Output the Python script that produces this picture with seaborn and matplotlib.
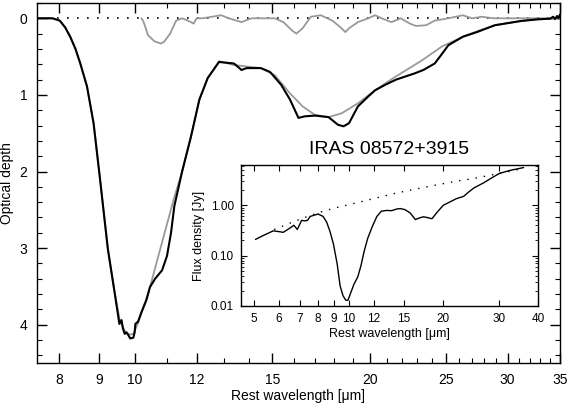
import numpy as np
import pandas as pd
import matplotlib
matplotlib.use("Agg")
import matplotlib.pyplot as plt
import matplotlib.ticker as mticker
import seaborn as sns

# ---------------- data ----------------
# observed optical depth (black)
tau_wl = [7.5, 7.85, 8.02, 8.15, 8.27, 8.40, 8.52, 8.69, 8.86, 9.03, 9.11, 9.24, 9.41,
          9.56, 9.62, 9.66, 9.71, 9.76, 9.82, 9.87, 9.96, 10.0, 10.02, 10.1, 10.2, 10.35,
          10.46, 10.62, 10.84, 11.0, 11.13, 11.24, 11.5, 11.8, 12.1, 12.4, 12.82, 13.4,
          13.7, 13.9, 14.5, 14.9, 15.4, 15.8, 16.2, 16.5, 17.0, 17.7, 18.2, 18.5, 18.8,
          19.3, 19.9, 20.3, 20.9, 21.6, 22.8, 23.4, 24.2, 24.7, 25.2, 26.3, 27.4, 28.9,
          31.2, 32.8, 34.0, 34.3, 34.5, 34.7, 34.85, 35.0]
tau_obs = [0.0, 0.0, 0.03, 0.12, 0.24, 0.40, 0.59, 0.89, 1.37, 2.10, 2.45, 3.01, 3.53,
           3.99, 3.94, 4.05, 4.12, 4.10, 4.14, 4.18, 4.17, 4.10, 3.99, 3.96, 3.84, 3.68,
           3.51, 3.40, 3.29, 3.10, 2.80, 2.45, 2.00, 1.55, 1.06, 0.78, 0.57, 0.59,
           0.675, 0.65, 0.65, 0.70, 0.87, 1.06, 1.30, 1.28, 1.27, 1.29, 1.39, 1.41, 1.37,
           1.15, 1.02, 0.94, 0.87, 0.80, 0.72, 0.675, 0.59, 0.47, 0.35, 0.24, 0.18, 0.09,
           0.035, 0.013, 0.005, -0.02, 0.01, -0.03, 0.0, -0.05]

# model fit (grey)
mod_wl = [7.5, 7.85, 8.02, 8.15, 8.27, 8.40, 8.52, 8.69, 8.86, 9.03, 9.11, 9.24, 9.41,
          9.56, 9.71, 9.85, 9.96, 10.1, 10.2, 10.35, 10.46, 11.22, 11.5, 11.8, 12.1,
          12.4, 12.82, 13.4, 14.5, 15.1, 15.8, 16.4, 17.0, 17.7, 18.4, 19.3, 20.3, 21.5,
          23.3, 24.7, 26.3, 27.4, 28.9, 31.2, 32.8, 35.0]
tau_mod = [0.0, 0.0, 0.03, 0.12, 0.24, 0.40, 0.59, 0.89, 1.37, 2.10, 2.45, 3.01, 3.53,
           3.92, 4.08, 4.13, 4.12, 3.98, 3.84, 3.66, 3.51, 2.36, 2.00, 1.55, 1.06,
           0.78, 0.56, 0.61, 0.65, 0.74, 0.98, 1.15, 1.26, 1.29, 1.24, 1.11, 0.94, 0.77,
           0.55, 0.37, 0.24, 0.17, 0.09, 0.035, 0.013, 0.0]

# residual (grey, near zero)
res_wl = [10.2, 10.25, 10.3, 10.4, 10.6, 10.8, 10.9, 11.1, 11.3, 11.5, 11.7, 11.9, 12.0,
          12.2, 12.9, 13.2, 13.7, 14.1, 15.1, 15.5, 15.9, 16.1, 16.4, 16.8, 17.3, 17.9,
          18.3, 18.6, 18.8, 19.3, 19.9, 20.3, 20.7, 21.3, 21.9, 22.5, 22.9, 23.6, 24.2,
          25.2, 26.3, 27.0, 27.8, 28.8, 30.0, 31.5, 33.0, 35.0]
tau_res = [0.0, 0.03, 0.09, 0.22, 0.30, 0.33, 0.31, 0.20, 0.03, 0.0, 0.03, 0.07, 0.0,
           0.0, -0.04, 0.0, 0.05, 0.0, 0.0, 0.05, 0.16, 0.20, 0.13, -0.02, -0.04, 0.03,
           0.11, 0.18, 0.13, 0.05, 0.0, -0.04, 0.0, 0.05, 0.0, 0.07, 0.10, 0.09, 0.03,
           0.0, -0.04, 0.0, -0.02, 0.0, 0.0, 0.0, 0.0, 0.0]

# inset: observed flux density and continuum
flux_wl = [5.06, 5.35, 5.76, 6.0, 6.2, 6.5, 6.7, 6.87, 7.09, 7.25, 7.4, 7.55, 8.0, 8.3,
           8.52, 8.73, 8.95, 9.2, 9.4, 9.6, 9.8, 9.95, 10.15, 10.4, 10.7, 10.96, 11.2,
           11.5, 11.9, 12.3, 12.7, 13.2, 13.7, 14.2, 14.6, 15.1, 15.7, 16.3, 16.8, 17.3,
           17.8, 18.4, 19.2, 20.0, 21.2, 22.0, 23.2, 24.0, 25.0, 26.9, 28.5, 30.2, 32.5,
           34.5, 36.0]
flux = [0.21, 0.25, 0.31, 0.30, 0.29, 0.35, 0.40, 0.33, 0.50, 0.49, 0.50, 0.60, 0.67, 0.60,
        0.46, 0.30, 0.17, 0.068, 0.025, 0.016, 0.013, 0.013, 0.018, 0.027, 0.038, 0.065, 0.12,
        0.22, 0.38, 0.60, 0.76, 0.79, 0.78, 0.84, 0.86, 0.82, 0.70, 0.52, 0.56, 0.59,
        0.57, 0.54, 0.75, 1.0, 1.2, 1.35, 1.5, 1.8, 2.2, 2.8, 3.5, 4.3, 4.9,
        5.3, 5.6]
cont_wl = [5.8, 6.5, 7.3, 8.0, 8.9, 11.1, 14.2, 18.2, 22.0, 25.0, 28.2, 31.9, 36.0]
cont = [0.33, 0.44, 0.58, 0.71, 0.86, 1.2, 1.75, 2.4, 3.0, 3.4, 3.95, 4.6, 5.4]

main_xticks = [8, 9, 10, 12, 15, 20, 25, 30, 35]
main_xminor = [11, 13, 14, 16, 17, 18, 19, 21, 22, 23, 24, 26, 27, 28, 29, 31, 32, 33, 34]
main_yticks = [0, 1, 2, 3, 4]
inset_xticks = [5, 6, 7, 8, 9, 10, 12, 15, 20, 30, 40]
inset_yticks = [0.01, 0.1, 1.0]

# ---------------- style ----------------
sns.set_theme(style="ticks")
plt.rcParams['font.family'] = ['Liberation Sans', 'DejaVu Sans']
plt.rcParams['axes.linewidth'] = 1.0
plt.rcParams['text.color'] = 'black'
plt.rcParams['axes.labelcolor'] = 'black'

fig = plt.figure(figsize=(5.72, 4.04), dpi=100)
ax = fig.add_axes([0.0647, 0.1015, 0.979 - 0.0647, 0.9926 - 0.1015])

df_obs = pd.DataFrame({"wl": tau_wl, "tau": tau_obs})
df_mod = pd.DataFrame({"wl": mod_wl, "tau": tau_mod})
df_res = pd.DataFrame({"wl": res_wl, "tau": tau_res})
df_zero = pd.DataFrame({"wl": [7.5, 35.0], "tau": [0.0, 0.0]})

sns.lineplot(data=df_zero, x="wl", y="tau", ax=ax, color="black", lw=1.2,
             linestyle=(0, (1, 5)), sort=False, zorder=1)
sns.lineplot(data=df_res, x="wl", y="tau", ax=ax, color="#999999", lw=1.3, sort=False, zorder=2)
sns.lineplot(data=df_mod, x="wl", y="tau", ax=ax, color="#999999", lw=1.3, sort=False, zorder=2)
sns.lineplot(data=df_obs, x="wl", y="tau", ax=ax, color="black", lw=1.5, sort=False, zorder=3)

ax.set_xscale("log")
ax.set_xlim(7.5, 35)
ax.set_ylim(4.5, -0.2)
ax.xaxis.set_major_locator(mticker.FixedLocator(main_xticks))
ax.xaxis.set_major_formatter(mticker.FixedFormatter([str(t) for t in main_xticks]))
ax.xaxis.set_minor_locator(mticker.FixedLocator(main_xminor))
ax.xaxis.set_minor_formatter(mticker.NullFormatter())
ax.yaxis.set_major_locator(mticker.FixedLocator(main_yticks))
ax.yaxis.set_major_formatter(mticker.FixedFormatter([str(t) for t in main_yticks]))
ax.yaxis.set_minor_locator(mticker.MultipleLocator(0.2))
ax.tick_params(which="both", direction="in", top=True, right=True, colors="black",
               labelsize=10)
ax.tick_params(which="major", length=7, width=1.0, pad=7)
ax.tick_params(which="minor", length=3.5, width=0.8)
ax.set_xlabel("Rest wavelength [μm]", fontsize=10, labelpad=2)
ax.set_ylabel("Optical depth", fontsize=10, labelpad=4)
for s in ax.spines.values():
    s.set_visible(True)
    s.set_color("black")

# ---------------- inset ----------------
ax_in = fig.add_axes([0.4213, 0.2426, 0.9406 - 0.4213, 0.5916 - 0.2426])
ax_in.set_facecolor("white")
df_flux = pd.DataFrame({"wl": flux_wl, "f": flux})
df_cont = pd.DataFrame({"wl": cont_wl, "f": cont})
sns.lineplot(data=df_cont, x="wl", y="f", ax=ax_in, color="black", lw=1.0,
             linestyle=(0, (1, 5)), sort=False)
sns.lineplot(data=df_flux, x="wl", y="f", ax=ax_in, color="black", lw=1.0, sort=False)
ax_in.set_xscale("log")
ax_in.set_yscale("log")
ax_in.set_xlim(4.55, 40)
ax_in.set_ylim(0.01, 6.3)
ax_in.xaxis.set_major_locator(mticker.FixedLocator(inset_xticks))
ax_in.xaxis.set_major_formatter(mticker.FixedFormatter([str(t) for t in inset_xticks]))
ax_in.xaxis.set_minor_locator(mticker.NullLocator())
ax_in.yaxis.set_major_locator(mticker.FixedLocator(inset_yticks))
ax_in.yaxis.set_major_formatter(mticker.FixedFormatter(["%.2f" % t for t in inset_yticks]))
ax_in.yaxis.set_minor_locator(mticker.LogLocator(base=10, subs=np.arange(2, 10)))
ax_in.yaxis.set_minor_formatter(mticker.NullFormatter())
ax_in.tick_params(which="both", direction="in", top=True, right=True, colors="black",
                  labelsize=8.5)
ax_in.tick_params(which="major", length=4, width=0.8, pad=5)
ax_in.tick_params(which="minor", length=2.5, width=0.6)
ax_in.set_xlabel("Rest wavelength [μm]", fontsize=9, labelpad=2)
ax_in.set_ylabel("Flux density [Jy]", fontsize=9, labelpad=4)
ax_in.set_title("IRAS 08572+3915", fontsize=14, pad=8)
for s in ax_in.spines.values():
    s.set_visible(True)
    s.set_color("black")
    s.set_linewidth(1.0)

fig.savefig("out.png", dpi=100)
